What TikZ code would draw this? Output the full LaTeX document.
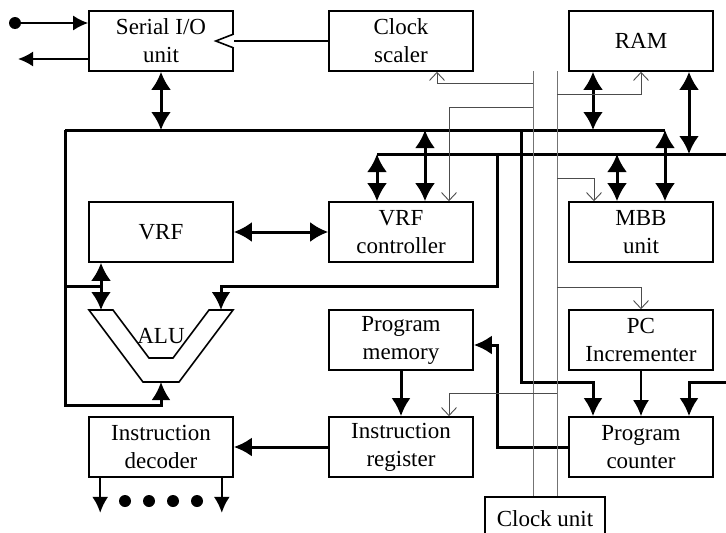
\documentclass[tikz,border=0pt]{standalone}
\usepackage{fontspec}
\setmainfont{Liberation Serif}
\usetikzlibrary{arrows.meta, calc}

\begin{document}
\begin{tikzpicture}[x=1pt, y=-1pt,
    blk/.style={draw, line width=1.6pt, minimum width=144pt, minimum height=60pt,
        inner sep=0pt, align=center, font=\fontsize{23}{28}\selectfont},
    bus/.style={line width=3pt},
    dbl/.style={line width=3pt, {Latex[length=18pt,width=20pt]}-{Latex[length=18pt,width=20pt]}},
    barr/.style={line width=3pt, -{Latex[length=18pt,width=19pt]}},
    marr/.style={line width=2pt, -{Latex[length=16pt,width=16pt]}},
    sarr/.style={line width=2pt, -{Latex[length=15pt,width=15pt]}},
    clkline/.style={line width=0.9pt, black!55},
    clk/.style={line width=0.9pt, black!70, -{Straight Barb[length=8pt,width=15pt]}}]
    \useasboundingbox (0,0) rectangle (726,533);

    % Các khối
    \node[blk] (sio) at (161,41) {Serial I/O\\unit};
    \node[blk] (csc) at (401,41) {Clock\\scaler};
    \node[blk] (ram) at (641,41) {RAM};
    \node[blk] (vrf) at (161,232) {VRF};
    \node[blk] (vrfc) at (401,232) {VRF\\controller};
    \node[blk] (mbb) at (641,232) {MBB\\unit};
    \node[blk] (pm) at (401,340) {Program\\memory};
    \node[blk] (pci) at (641,340) {PC\\Incrementer};
    \node[blk] (id) at (161,447) {Instruction\\decoder};
    \node[blk] (ir) at (401,447) {Instruction\\register};
    \node[blk] (pc) at (641,447) {Program\\counter};
    \node[blk, minimum width=120pt, minimum height=44pt] (cu) at (545,519) {Clock unit};

    % ALU
    \draw[line width=1.6pt] (89,310) -- (113,310) -- (149,358) -- (173,358)
        -- (209,310) -- (233,310) -- (179,382) -- (143,382) -- cycle;
    \node[font=\fontsize{23}{28}\selectfont, inner sep=0pt] (alu) at (161,336) {ALU};
    \coordinate (alub) at (161,382);
    \coordinate (alul) at (101,310);
    \coordinate (alur) at (221,310);

    % Bus
    \coordinate (b1l) at (65,130);
    \coordinate (b1r) at (665,130);
    \coordinate (b2l) at (377,154);
    \coordinate (b2r) at (726,154);
    \draw[bus] (b1l) -- (b1r);
    \draw[bus] (b2l) -- (b2r);

    % Serial I/O
    \coordinate (din) at (15,23);
    \coordinate (dout) at (18,59);
    \fill (din) circle (6);
    \draw[sarr] (din) -- (din -| sio.west);
    \draw[sarr] (dout -| sio.west) -- (dout);
    \draw[line width=2pt] (csc.west) -- (sio.east);
    \draw[line width=1.6pt, fill=white] ($(sio.east)+(0,-7)$) -- ++(-18,7) -- ++(18,7);
    \draw[dbl] (sio.south) -- (sio.south |- b1l);

    % VRF, ALU
    \draw[barr] (b1l) |- ($(alub)+(0,23)$) -- (alub);
    \draw[bus] (65,286) -- (101,286);
    \draw[dbl] (vrf.south -| alul) -- (alul);
    \draw[barr] (497,154) |- ($(alur)+(0,-24)$) -- (alur);
    \draw[dbl] (vrf.east) -- (vrfc.west);
    \draw[dbl] (b2l) -- (b2l |- vrfc.north);
    \draw[dbl] (425,130) -- ($(vrfc.north)+(24,0)$);

    % RAM, MBB
    \draw[dbl] ($(ram.south)+(-48,0)$) -- (593,130);
    \draw[dbl] ($(ram.south)+(48,0)$) -- (689,154);
    \draw[dbl] (617,154) -- ($(mbb.north)+(-24,0)$);
    \draw[dbl] (b1r) -- (b1r |- mbb.north);

    % Program counter
    \draw[barr] (521,130) |- (593,382) -- ($(pc.north)+(-48,0)$);
    \draw[barr] (726,382) -| ($(pc.north)+(48,0)$);
    \draw[marr] (pci.south) -- (pc.north);
    \draw[barr] (pc.west) -| (497,345) -- ($(pm.east)+(0,5)$);
    \draw[barr] (pm.south) -- (ir.north);
    \draw[barr] (ir.west) -- (id.east);

    % Đầu ra bộ giải mã
    \draw[marr] ($(id.south west)+(12,0)$) -- ++(0,35);
    \draw[marr] ($(id.south east)+(-12,0)$) -- ++(0,35);
    \foreach \x in {125,149,173,197} {
        \fill (\x,501) circle (6);
    }

    % Xung nhịp
    \coordinate (ck1) at (533,71);
    \coordinate (ck2) at (557,71);
    \draw[clkline] (ck1) -- (ck1 |- cu.north);
    \draw[clkline] (ck2) -- (ck2 |- cu.north);
    \draw[clk] ($(ck1)+(0,12)$) -| ($(csc.south)+(36,0)$);
    \draw[clk] ($(ck1)+(0,36)$) -| ($(vrfc.north)+(48,0)$);
    \draw[clk] ($(ck2)+(0,23)$) -| (ram.south);
    \draw[clk] ($(ck2)+(0,107)$) -| ($(mbb.north)+(-47,0)$);
    \draw[clk] ($(ck2)+(0,216)$) -| (pci.north);
    \draw[clk] ($(ck2)+(0,322)$) -| ($(ir.north)+(48,0)$);
\end{tikzpicture}
\end{document}
